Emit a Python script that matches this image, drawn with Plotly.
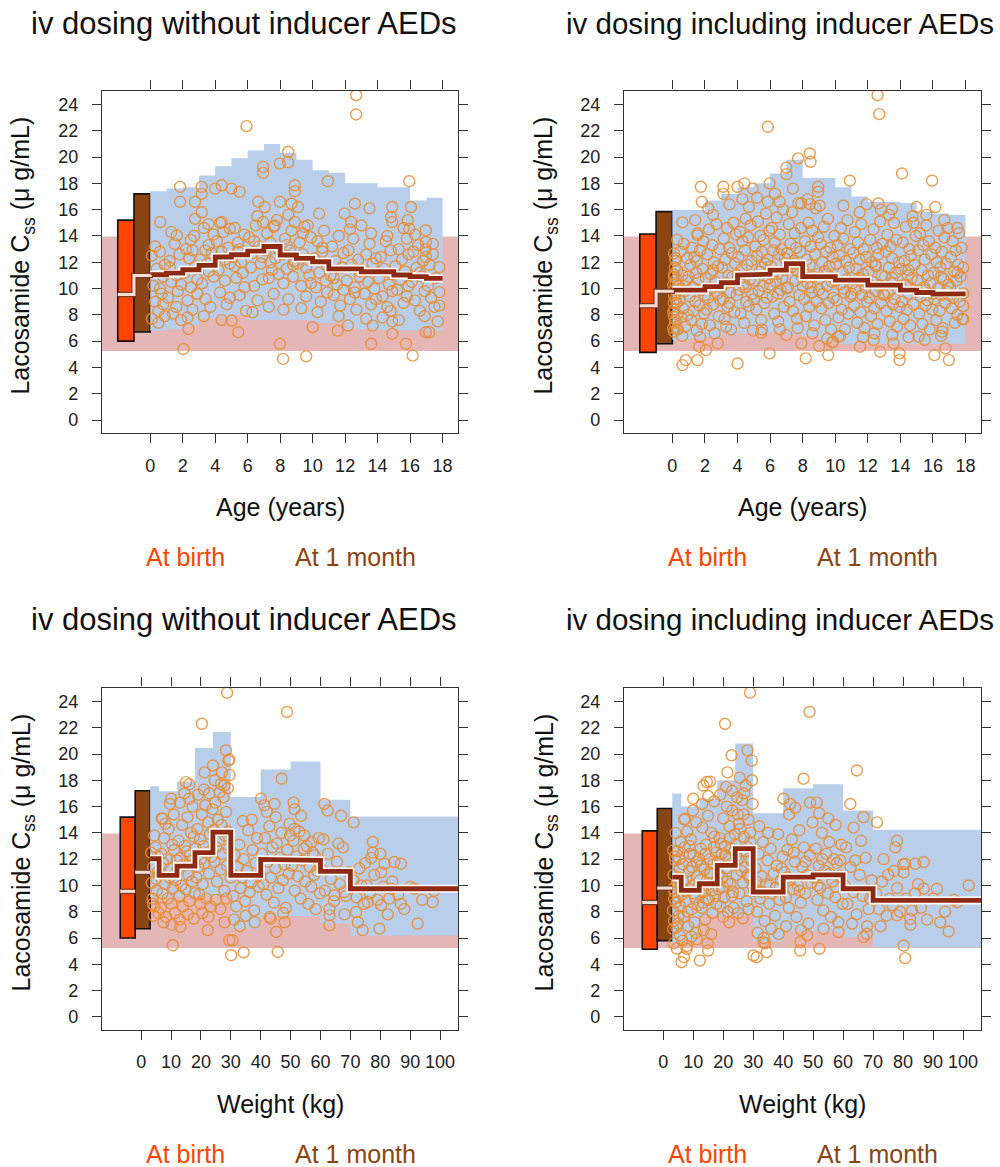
import plotly.graph_objects as go

# ---------------- data ----------------
AGE_EDGES = list(range(0, 19))
WT_EDGES = [3, 6, 12, 18, 24, 30, 40, 50, 60, 70, 106]
AGE_TICKS = list(range(0, 19, 2))
WT_TICKS = list(range(0, 101, 10))
Y_TICKS = list(range(0, 25, 2))
AGE_RANGE = [-2.97, 18.95]
WT_RANGE = [-13.1, 106.0]
Y_RANGE = [-0.96, 25.06]

REF_LOW, REF_HIGH = 5.25, 13.95   # adult reference range (pink)

AGE_BIRTH_X = [-2, -1]
AGE_MONTH_X = [-1, 0]
WT_BIRTH_X = [-7, -2]
WT_MONTH_X = [-2, 3]
NOIND_BIRTH = [6.0, 9.55, 15.2]     # low, median, high
NOIND_MONTH = [6.7, 11.0, 17.2]
IND_BIRTH = [5.15, 8.7, 14.15]
IND_MONTH = [5.8, 9.8, 15.85]

TL_MED = [11.05, 11.17, 11.43, 11.76, 12.4, 12.57, 12.85, 13.2, 12.55, 12.3, 12.04, 11.5, 11.5, 11.28, 11.28, 11.03, 10.9, 10.77]
TL_P95 = [17.4, 17.6, 17.7, 18.6, 19.3, 19.9, 20.5, 21.0, 20.3, 19.8, 19.0, 18.8, 18.0, 18.0, 17.7, 17.7, 16.7, 16.9]
TL_P5 = [6.8, 6.9, 7.2, 7.7, 7.8, 8.0, 7.6, 7.6, 7.6, 7.6, 7.4, 7.4, 6.9, 6.9, 6.85, 6.85, 6.8, 6.8]

TR_MED = [9.88, 9.88, 10.14, 10.44, 11.02, 11.1, 11.4, 11.9, 10.9, 10.9, 10.64, 10.64, 10.26, 10.26, 9.88, 9.7, 9.58, 9.6]
TR_P95 = [16.0, 15.97, 16.7, 17.2, 17.7, 18.0, 18.75, 19.8, 18.4, 18.4, 17.7, 17.0, 16.6, 16.6, 16.5, 15.85, 15.7, 15.6]
TR_P5 = [6.1, 6.2, 6.3, 6.5, 6.6, 6.6, 6.7, 6.5, 6.4, 6.0, 5.8, 5.8, 5.8, 5.8, 5.8, 5.8, 5.8, 5.8]

BL_MED = [12.03, 10.76, 11.47, 12.5, 14.06, 10.76, 11.98, 11.9, 11.07, 9.75]
BL_P95 = [17.54, 17.16, 17.9, 20.45, 21.67, 16.72, 18.83, 19.43, 16.52, 15.25]
BL_P5 = [9.1, 9.1, 9.1, 9.2, 9.2, 6.7, 7.7, 7.65, 7.1, 6.2]

BR_MED = [10.63, 9.62, 10.13, 11.52, 12.8, 9.5, 10.63, 10.8, 9.75, 8.86]
BR_P95 = [17.0, 16.0, 16.6, 18.0, 20.8, 15.5, 17.4, 17.7, 15.7, 14.24]
BR_P5 = [5.7, 5.7, 7.7, 7.7, 7.7, 5.74, 6.5, 6.45, 6.07, 5.3]

# observed concentrations: (age in years, Css) without inducers
TL_POINTS = [
    (12.68, 24.7), (12.68, 23.24), (5.93, 22.35), (8.49, 20.4), (8.49, 19.6), (7.98, 19.5), (6.95, 19.25), (6.95, 18.8),
    (8.9, 17.85), (8.9, 17.4), (10.94, 18.16), (15.95, 18.16), (1.84, 17.73), (1.84, 16.6), (3.17, 17.73), (3.17, 17.2),
    (3.99, 17.6), (4.4, 17.85), (5.0, 17.6), (5.5, 17.35), (2.76, 16.6), (3.17, 15.8), (6.65, 16.6), (7.05, 16.2),
    (7.98, 16.6), (8.7, 16.45), (9.1, 16.2), (12.6, 16.45), (13.5, 16.1), (14.9, 16.2), (16.05, 16.2), (0.61, 15.06),
    (1.64, 14.04), (2.76, 15.3), (3.58, 14.9), (4.4, 15.06), (4.9, 14.55), (6.95, 15.06), (7.67, 14.8), (8.9, 15.06),
    (9.7, 14.8), (10.4, 15.7), (11.96, 15.7), (12.37, 15.06), (13.0, 14.8), (14.83, 15.44), (14.9, 15.06), (15.85, 15.2),
    (15.95, 14.55), (16.97, 14.43), (16.97, 13.54), (2.04, 5.4), (2.35, 6.93), (5.42, 6.68), (5.0, 7.57), (7.98, 5.8),
    (8.18, 4.65), (9.6, 4.85), (10.0, 7.06), (11.55, 6.8), (12.17, 7.19), (13.6, 5.8), (13.7, 7.19), (14.9, 6.55),
    (15.75, 5.8), (16.16, 4.9), (16.97, 6.68), (17.18, 6.68),
    (0.1, 12.5), (0.1, 7.7), (0.2, 10.2), (0.3, 9.0), (0.4, 11.5), (0.5, 8.3), (0.6, 12.8), (0.7, 9.6), (0.8, 10.9),
    (0.9, 7.9), (0.3, 13.2), (0.6, 10.0), (0.9, 11.8), (0.5, 7.4), (0.8, 8.8),
    (1.1, 9.3), (1.2, 12.1), (1.3, 10.5), (1.4, 8.1), (1.5, 13.4), (1.6, 11.0), (1.7, 9.8), (1.8, 12.6), (1.9, 7.6),
    (1.3, 14.3), (1.6, 8.6), (1.9, 10.3), (1.2, 11.6),
    (2.1, 11.2), (2.2, 13.0), (2.3, 9.1), (2.4, 12.3), (2.5, 10.1), (2.6, 8.4), (2.7, 14.0), (2.8, 11.7), (2.9, 9.6),
    (2.3, 7.8), (2.6, 12.9), (2.9, 10.7), (2.5, 13.7),
    (3.1, 12.2), (3.2, 10.4), (3.3, 14.6), (3.4, 9.2), (3.5, 11.9), (3.6, 13.3), (3.7, 8.6), (3.8, 12.7), (3.9, 10.9),
    (3.3, 7.9), (3.6, 11.3), (3.9, 14.1), (3.4, 12.9),
    (4.1, 13.6), (4.2, 11.4), (4.3, 9.7), (4.4, 12.8), (4.5, 14.3), (4.6, 10.6), (4.7, 8.8), (4.8, 13.1), (4.9, 11.9),
    (4.3, 15.0), (4.6, 12.2), (4.9, 9.3), (4.4, 7.6),
    (5.1, 12.4), (5.2, 14.6), (5.3, 10.8), (5.4, 13.5), (5.5, 9.5), (5.6, 12.0), (5.7, 11.2), (5.8, 14.1), (5.9, 8.3),
    (5.2, 11.7), (5.5, 13.0), (5.8, 10.1), (5.4, 12.8),
    (6.1, 13.9), (6.2, 11.6), (6.3, 12.7), (6.4, 10.2), (6.5, 14.8), (6.6, 9.1), (6.7, 13.2), (6.8, 11.9), (6.9, 12.4),
    (6.3, 8.2), (6.6, 15.5), (6.9, 10.7), (6.4, 13.6),
    (7.1, 12.9), (7.2, 14.2), (7.3, 10.8), (7.4, 13.5), (7.5, 11.4), (7.6, 9.6), (7.7, 12.3), (7.8, 15.2), (7.9, 13.0),
    (7.3, 8.6), (7.6, 14.7), (7.9, 11.1), (7.4, 12.0),
    (8.1, 12.6), (8.2, 10.4), (8.3, 13.8), (8.4, 11.5), (8.5, 9.2), (8.6, 12.9), (8.7, 14.4), (8.8, 10.9), (8.9, 12.1),
    (8.2, 8.4), (8.5, 15.6), (8.8, 11.8), (8.4, 13.3),
    (9.1, 11.9), (9.2, 13.5), (9.3, 10.2), (9.4, 12.6), (9.5, 14.7), (9.6, 9.4), (9.7, 12.2), (9.8, 11.0), (9.9, 13.9),
    (9.3, 8.5), (9.6, 11.6), (9.9, 10.4), (9.4, 14.2),
    (10.1, 12.3), (10.2, 10.1), (10.3, 13.6), (10.4, 11.2), (10.5, 9.0), (10.6, 12.8), (10.7, 14.4), (10.8, 10.6),
    (10.9, 11.7), (10.3, 8.2), (10.6, 13.1), (10.9, 9.7),
    (11.1, 11.0), (11.2, 13.2), (11.3, 9.5), (11.4, 12.1), (11.5, 10.3), (11.6, 14.0), (11.7, 8.7), (11.8, 11.6),
    (11.9, 12.7), (11.3, 10.8), (11.6, 7.9), (11.9, 9.9),
    (12.1, 10.6), (12.2, 12.9), (12.3, 9.2), (12.4, 11.8), (12.5, 13.8), (12.6, 10.1), (12.7, 8.4), (12.8, 12.2),
    (12.9, 11.3), (12.3, 14.5), (12.6, 9.7), (12.9, 10.9),
    (13.1, 11.4), (13.2, 9.6), (13.3, 12.6), (13.4, 10.5), (13.5, 13.4), (13.6, 8.8), (13.7, 11.9), (13.8, 10.0),
    (13.9, 12.3), (13.3, 7.7), (13.6, 14.2), (13.9, 9.2),
    (14.1, 10.8), (14.2, 12.4), (14.3, 9.4), (14.4, 11.5), (14.5, 13.6), (14.6, 8.6), (14.7, 10.3), (14.8, 12.9),
    (14.9, 11.1), (14.3, 7.8), (14.6, 14.0), (14.9, 9.8), (14.8, 8.3), (14.9, 7.5),
    (15.1, 11.7), (15.2, 9.9), (15.3, 13.0), (15.4, 10.7), (15.5, 12.2), (15.6, 8.9), (15.7, 11.3), (15.8, 13.8),
    (15.9, 10.2), (15.3, 7.6), (15.6, 14.6), (15.9, 12.6), (15.8, 9.4),
    (16.1, 10.5), (16.2, 12.8), (16.3, 9.1), (16.4, 11.6), (16.5, 13.3), (16.6, 8.3), (16.7, 10.9), (16.8, 12.1),
    (16.9, 9.8), (16.3, 14.1), (16.6, 11.2), (16.9, 7.9), (16.97, 13.0), (16.97, 12.4),
    (17.1, 10.2), (17.2, 11.8), (17.3, 9.3), (17.4, 12.6), (17.5, 8.6), (17.6, 10.8), (17.8, 11.63), (17.8, 9.73),
    (17.8, 8.7), (17.4, 13.4), (17.7, 7.5),
]

# (age in years, Css) including inducers
TR_POINTS = [
    (12.6, 24.7), (12.7, 23.26), (5.86, 22.3), (7.72, 19.9), (8.44, 20.27), (8.48, 19.64), (7.0, 19.2), (7.0, 18.7),
    (14.1, 18.75), (15.95, 18.2), (10.9, 18.2), (1.75, 17.74), (1.81, 16.6), (3.13, 17.74), (3.13, 17.2), (4.0, 17.74),
    (4.42, 18.0), (4.94, 17.6), (5.97, 18.0), (8.95, 17.74), (8.95, 17.36), (0.62, 15.03), (1.54, 14.06), (12.65, 16.47),
    (11.93, 16.42), (13.48, 16.04), (16.15, 16.2), (15.0, 16.2), (8.44, 16.42), (9.05, 16.3), (7.92, 16.47), (5.86, 16.6),
    (6.58, 16.6), (0.62, 4.18), (0.82, 4.56), (1.54, 4.56), (1.65, 5.58), (2.06, 5.32), (2.78, 5.83), (4.0, 4.3),
    (5.97, 5.07), (5.45, 6.64), (7.0, 6.46), (7.92, 5.83), (8.19, 4.69), (9.01, 5.63), (9.57, 4.94), (9.88, 5.96),
    (10.19, 6.34), (11.52, 5.58), (12.35, 6.08), (12.76, 5.2), (13.58, 5.83), (13.95, 5.07), (13.95, 4.56), (15.12, 6.34),
    (16.09, 4.94), (16.77, 5.45), (16.98, 4.56), (16.56, 6.72), (0.1, 12.67), (0.1, 11.07), (0.1, 7.86), (0.1, 6.72),
    (0.05, 7.0), (0.08, 8.9), (0.12, 9.9), (0.15, 11.6), (0.18, 12.3), (0.22, 7.6), (0.25, 10.7), (0.28, 6.9),
    (0.12, 8.4), (0.05, 10.3), (0.2, 9.2), (0.3, 8.0),
    (1.0, 10.9), (2.0, 9.5), (3.0, 10.1), (4.0, 11.0), (5.0, 9.2), (6.0, 10.3), (7.0, 10.0), (8.0, 10.2), (9.0, 9.9),
    (10.0, 10.6), (11.0, 9.6), (12.0, 10.4), (13.0, 9.5), (14.0, 10.2), (15.0, 9.8), (16.0, 9.6), (17.0, 9.5),
    (1.5, 12.1), (2.5, 11.4), (3.5, 8.9), (4.5, 10.1), (5.5, 11.6), (6.5, 9.6), (7.5, 11.9), (8.5, 10.1), (9.5, 11.1),
    (10.5, 10.0), (11.5, 10.6), (12.5, 11.7), (13.5, 10.8), (14.5, 11.4), (15.5, 9.9), (16.5, 10.9), (17.5, 11.2),
    (0.05, 8.2), (0.1, 9.5), (0.1, 10.9), (0.15, 7.4), (0.2, 12.1), (0.25, 8.9), (0.3, 11.4), (0.35, 6.9), (0.4, 10.2),
    (0.45, 9.1), (0.5, 12.8), (0.55, 7.8), (0.6, 11.0), (0.65, 8.5), (0.7, 13.4), (0.75, 9.8), (0.8, 7.1), (0.85, 10.6),
    (0.9, 12.3), (0.95, 8.0), (0.3, 13.7), (0.6, 6.4), (0.2, 10.4),
    (1.05, 9.4), (1.1, 11.8), (1.15, 7.6), (1.2, 13.1), (1.25, 10.1), (1.3, 8.3), (1.35, 12.4), (1.4, 9.0), (1.45, 11.2),
    (1.5, 6.8), (1.55, 14.2), (1.6, 10.7), (1.65, 8.7), (1.7, 12.9), (1.75, 9.9), (1.8, 7.3), (1.85, 11.5), (1.9, 13.6),
    (1.95, 8.1), (1.4, 15.2), (1.7, 6.3),
    (2.05, 10.8), (2.1, 8.4), (2.15, 12.6), (2.2, 9.3), (2.25, 14.5), (2.3, 7.2), (2.35, 11.1), (2.4, 10.0), (2.45, 13.3),
    (2.5, 8.8), (2.55, 12.0), (2.6, 6.6), (2.65, 10.5), (2.7, 14.9), (2.75, 9.6), (2.8, 11.7), (2.85, 7.9), (2.9, 13.0),
    (2.95, 9.1), (2.5, 15.6), (2.2, 16.1),
    (3.05, 11.6), (3.1, 9.2), (3.15, 13.8), (3.2, 7.7), (3.25, 12.2), (3.3, 10.4), (3.35, 14.6), (3.4, 8.6), (3.45, 11.0),
    (3.5, 13.1), (3.55, 9.7), (3.6, 6.9), (3.65, 12.7), (3.7, 10.9), (3.75, 15.0), (3.8, 8.2), (3.85, 11.9), (3.9, 14.1),
    (3.95, 9.5), (3.5, 16.4), (3.3, 7.1),
    (4.05, 12.4), (4.1, 9.9), (4.15, 14.3), (4.2, 8.1), (4.25, 11.5), (4.3, 13.6), (4.35, 10.3), (4.4, 7.4), (4.45, 12.9),
    (4.5, 15.3), (4.55, 9.0), (4.6, 11.8), (4.65, 13.9), (4.7, 8.7), (4.75, 10.7), (4.8, 14.8), (4.85, 12.1), (4.9, 9.6),
    (4.95, 6.8), (4.3, 16.8), (4.7, 16.2),
    (5.05, 10.6), (5.1, 13.2), (5.15, 8.4), (5.2, 12.5), (5.25, 15.1), (5.3, 9.8), (5.35, 11.3), (5.4, 14.0), (5.45, 7.6),
    (5.5, 12.8), (5.55, 10.2), (5.6, 13.7), (5.65, 8.9), (5.7, 11.9), (5.75, 15.7), (5.8, 9.3), (5.85, 12.2), (5.9, 10.8),
    (5.95, 14.4), (5.5, 6.9), (5.2, 16.9),
    (6.05, 11.7), (6.1, 14.6), (6.15, 9.4), (6.2, 12.9), (6.25, 8.1), (6.3, 13.5), (6.35, 10.5), (6.4, 15.4), (6.45, 11.1),
    (6.5, 7.5), (6.55, 12.6), (6.6, 14.1), (6.65, 9.9), (6.7, 13.0), (6.75, 10.8), (6.8, 16.0), (6.85, 8.6), (6.9, 12.3),
    (6.95, 11.4), (6.3, 17.2), (6.6, 6.9),
    (7.05, 12.7), (7.1, 10.1), (7.15, 14.9), (7.2, 9.0), (7.25, 13.4), (7.3, 11.6), (7.35, 15.8), (7.4, 8.3), (7.45, 12.1),
    (7.5, 14.2), (7.55, 10.6), (7.6, 13.1), (7.65, 7.7), (7.7, 11.3), (7.75, 16.5), (7.8, 9.5), (7.85, 12.8), (7.9, 14.6),
    (7.95, 10.9), (7.4, 17.6), (7.7, 7.0),
    (8.05, 11.4), (8.1, 9.2), (8.15, 13.6), (8.2, 7.9), (8.25, 12.2), (8.3, 10.4), (8.35, 15.0), (8.4, 8.6), (8.45, 11.8),
    (8.5, 13.2), (8.55, 9.7), (8.6, 14.4), (8.65, 10.9), (8.7, 7.2), (8.75, 12.6), (8.8, 16.1), (8.85, 9.0), (8.9, 11.1),
    (8.95, 13.9), (8.6, 6.6), (8.3, 16.8),
    (9.05, 10.8), (9.1, 13.4), (9.15, 8.5), (9.2, 12.0), (9.25, 9.6), (9.3, 14.7), (9.35, 11.3), (9.4, 7.6), (9.45, 12.8),
    (9.5, 10.2), (9.55, 15.3), (9.6, 8.9), (9.65, 11.7), (9.7, 13.1), (9.75, 6.9), (9.8, 10.5), (9.85, 12.4), (9.9, 9.3),
    (9.95, 14.0), (9.5, 6.2), (9.8, 5.9),
    (10.05, 11.9), (10.1, 9.1), (10.15, 13.3), (10.2, 7.8), (10.25, 12.5), (10.3, 10.3), (10.35, 14.6), (10.4, 8.4),
    (10.45, 11.2), (10.5, 13.8), (10.55, 9.7), (10.6, 6.9), (10.65, 12.1), (10.7, 10.7), (10.75, 15.2), (10.8, 8.1),
    (10.85, 11.6), (10.9, 13.0), (10.95, 9.4), (10.5, 16.3), (10.3, 6.4),
    (11.05, 10.4), (11.1, 12.7), (11.15, 8.7), (11.2, 14.3), (11.25, 9.9), (11.3, 11.5), (11.35, 7.4), (11.4, 13.5),
    (11.45, 10.8), (11.5, 12.2), (11.55, 8.2), (11.6, 14.9), (11.65, 9.5), (11.7, 11.1), (11.75, 13.0), (11.8, 7.0),
    (11.85, 10.1), (11.9, 12.4), (11.95, 9.0), (11.5, 15.8), (11.7, 6.3),
    (12.05, 11.3), (12.1, 9.3), (12.15, 13.7), (12.2, 7.9), (12.25, 12.0), (12.3, 10.5), (12.35, 14.5), (12.4, 8.5),
    (12.45, 11.8), (12.5, 9.8), (12.55, 13.1), (12.6, 7.3), (12.65, 12.6), (12.7, 10.2), (12.75, 15.1), (12.8, 8.9),
    (12.85, 11.0), (12.9, 13.4), (12.95, 9.6), (12.4, 6.6), (12.8, 16.0),
    (13.05, 10.9), (13.1, 12.8), (13.15, 8.3), (13.2, 14.1), (13.25, 9.7), (13.3, 11.6), (13.35, 7.5), (13.4, 13.2),
    (13.45, 10.4), (13.5, 12.3), (13.55, 8.8), (13.6, 15.0), (13.65, 9.2), (13.7, 11.2), (13.75, 13.7), (13.8, 7.1),
    (13.85, 10.0), (13.9, 12.0), (13.95, 8.6), (13.5, 6.5), (13.3, 15.6),
    (14.05, 11.5), (14.1, 9.0), (14.15, 13.5), (14.2, 7.7), (14.25, 12.1), (14.3, 10.3), (14.35, 14.7), (14.4, 8.4),
    (14.45, 11.0), (14.5, 9.6), (14.55, 13.0), (14.6, 7.2), (14.65, 12.5), (14.7, 10.8), (14.75, 15.5), (14.8, 8.8),
    (14.85, 11.8), (14.9, 9.9), (14.95, 14.0), (14.5, 6.3), (14.8, 15.0),
    (15.05, 10.6), (15.1, 12.9), (15.15, 8.1), (15.2, 14.2), (15.25, 9.4), (15.3, 11.4), (15.35, 7.3), (15.4, 13.3),
    (15.45, 10.1), (15.5, 12.2), (15.55, 8.7), (15.6, 14.8), (15.65, 9.1), (15.7, 11.0), (15.75, 13.6), (15.8, 6.9),
    (15.85, 10.4), (15.9, 12.6), (15.95, 8.4), (15.5, 6.1), (15.6, 15.6),
    (16.05, 11.2), (16.1, 9.2), (16.15, 13.1), (16.2, 7.6), (16.25, 12.0), (16.3, 10.0), (16.35, 14.4), (16.4, 8.3),
    (16.45, 11.6), (16.5, 9.5), (16.55, 12.8), (16.6, 7.0), (16.65, 10.7), (16.7, 13.9), (16.75, 8.9), (16.8, 11.9),
    (16.85, 9.8), (16.9, 14.6), (16.95, 10.3), (16.5, 6.4), (16.7, 15.2),
    (17.05, 10.1), (17.1, 12.4), (17.15, 8.5), (17.2, 13.6), (17.25, 9.3), (17.3, 11.3), (17.35, 7.4), (17.4, 12.9),
    (17.45, 10.6), (17.5, 8.0), (17.55, 11.8), (17.6, 14.2), (17.65, 9.0), (17.7, 10.9), (17.75, 13.1), (17.8, 7.7),
    (17.86, 11.6), (17.86, 9.63), (17.86, 8.67), (17.86, 7.65), (17.5, 14.6),
]

# (weight in kg, Css) without inducers
BL_POINTS = [
    (28.75, 24.66), (48.8, 23.2), (20.3, 22.3), (28.4, 20.27), (29.2, 19.5), (29.5, 19.6), (24.0, 19.13), (21.2, 18.6),
    (15.0, 17.86), (16.1, 17.7), (27.8, 17.6), (26.7, 17.7), (29.0, 17.4), (47.0, 18.12), (40.1, 16.6), (41.2, 16.09),
    (44.6, 16.2), (51.0, 16.3), (51.3, 15.8), (61.3, 16.2), (62.4, 15.7), (66.9, 15.3), (71.1, 14.8), (10.0, 16.6),
    (7.2, 15.07), (77.5, 13.3), (77.5, 12.5), (81.4, 11.65), (84.7, 11.78), (86.9, 11.65), (80.3, 11.0), (83.6, 9.75),
    (91.4, 9.75), (97.5, 8.74), (86.9, 8.6), (80.3, 8.5), (92.5, 7.1), (79.7, 6.71), (74.1, 6.6), (72.5, 7.2),
    (71.9, 7.98), (75.8, 8.74), (73.6, 10.0), (68.0, 9.5), (64.7, 9.25), (63.0, 7.72), (63.0, 6.96), (10.6, 5.45),
    (22.3, 6.6), (27.9, 7.2), (29.5, 5.83), (30.6, 5.83), (30.1, 4.69), (34.3, 4.9), (45.7, 4.94), (45.2, 6.46),
    (43.3, 7.47), (48.0, 7.2), (13.1, 6.84), (17.6, 7.47), (49.6, 14.7), (51.3, 14.3), (53.5, 15.3), (54.6, 13.8),
    (56.9, 13.3), (58.0, 12.3),
    (3.3, 12.5), (4.2, 7.7), (3.5, 10.2), (3.8, 9.0), (4.0, 11.4), (4.5, 8.4), (4.8, 12.9), (5.2, 9.6), (5.5, 11.0),
    (5.8, 7.9), (4.4, 13.8), (5.0, 10.5), (3.9, 8.6), (5.6, 12.2),
    (6.2, 10.9), (6.5, 8.3), (6.8, 12.4), (7.1, 9.4), (7.4, 11.7), (7.7, 13.6), (8.0, 10.1), (8.3, 7.6), (8.6, 12.0),
    (8.9, 9.0), (9.2, 14.3), (9.5, 10.6), (9.8, 11.3), (10.1, 8.6), (10.4, 13.1), (10.7, 9.8), (11.0, 12.7), (11.3, 7.9),
    (11.6, 10.4), (11.9, 11.9), (6.9, 15.1), (8.1, 14.7), (9.6, 16.2), (10.9, 15.4), (7.5, 7.2), (10.3, 7.0),
    (12.2, 11.2), (12.5, 13.4), (12.8, 9.2), (13.1, 12.1), (13.4, 10.0), (13.7, 14.6), (14.0, 8.4), (14.3, 11.6),
    (14.6, 13.0), (14.9, 9.7), (15.2, 12.6), (15.5, 15.2), (15.8, 10.8), (16.1, 8.8), (16.4, 12.3), (16.7, 14.0),
    (17.0, 10.3), (17.3, 11.9), (17.6, 13.7), (17.9, 9.4), (13.0, 16.3), (14.5, 17.0), (16.0, 16.6), (12.9, 7.4),
    (15.6, 7.8), (17.2, 16.0),
    (18.2, 12.8), (18.5, 10.6), (18.8, 14.3), (19.1, 11.4), (19.4, 9.3), (19.7, 13.5), (20.0, 12.0), (20.3, 15.4),
    (20.6, 10.1), (20.9, 13.0), (21.2, 11.7), (21.5, 16.1), (21.8, 9.0), (22.1, 12.5), (22.4, 14.8), (22.7, 10.9),
    (23.0, 13.9), (23.3, 8.4), (23.6, 12.2), (23.9, 15.8), (19.0, 16.9), (21.0, 17.3), (22.8, 17.0), (20.5, 7.9),
    (22.5, 7.6), (19.8, 8.6),
    (24.2, 14.2), (24.5, 11.8), (24.8, 16.3), (25.1, 12.9), (25.4, 10.3), (25.7, 15.0), (26.0, 13.4), (26.3, 17.1),
    (26.6, 11.2), (26.9, 14.6), (27.2, 12.4), (27.5, 16.7), (27.8, 9.6), (28.1, 13.8), (28.4, 15.6), (28.7, 11.5),
    (29.0, 14.1), (29.3, 12.8), (29.6, 18.4), (29.9, 10.6), (25.0, 8.9), (26.5, 8.2), (28.5, 9.0), (24.6, 18.0),
    (27.0, 18.6),
    (30.3, 10.9), (30.8, 9.2), (31.3, 12.3), (31.8, 8.4), (32.3, 11.4), (32.8, 13.1), (33.3, 9.8), (33.8, 10.6),
    (34.3, 12.0), (34.8, 8.8), (35.3, 11.1), (35.8, 14.2), (36.3, 9.5), (36.8, 10.2), (37.3, 12.7), (37.8, 8.1),
    (38.3, 11.7), (38.8, 13.6), (39.3, 9.9), (39.8, 10.8), (31.0, 7.4), (33.0, 6.9), (35.0, 7.7), (37.0, 15.0),
    (34.0, 14.9), (38.0, 7.2),
    (40.4, 12.4), (40.9, 10.1), (41.4, 13.6), (41.9, 9.3), (42.4, 11.8), (42.9, 14.5), (43.4, 10.6), (43.9, 12.9),
    (44.4, 8.7), (44.9, 11.3), (45.4, 13.2), (45.9, 9.8), (46.4, 12.1), (46.9, 14.0), (47.4, 10.4), (47.9, 11.6),
    (48.4, 8.3), (48.9, 12.7), (49.4, 10.9), (49.8, 13.8), (42.0, 15.6), (45.0, 15.2), (47.5, 7.9), (43.0, 7.6),
    (50.4, 11.5), (50.9, 13.4), (51.4, 9.6), (51.9, 12.2), (52.4, 10.7), (52.9, 14.1), (53.4, 9.0), (53.9, 11.9),
    (54.4, 12.8), (54.9, 10.3), (55.4, 13.0), (55.9, 8.6), (56.4, 11.4), (56.9, 9.9), (57.4, 12.5), (57.9, 10.8),
    (58.4, 8.2), (58.9, 11.1), (59.4, 13.6), (59.8, 9.4),
    (60.5, 11.2), (61.5, 9.6), (62.5, 12.4), (63.5, 10.5), (64.5, 8.8), (65.5, 11.8), (66.5, 10.1), (67.5, 12.9),
    (68.5, 9.2), (69.5, 11.0), (61.0, 13.5), (63.0, 8.2), (66.0, 13.2), (68.0, 7.8),
    (71.0, 10.4), (72.0, 9.1), (73.0, 11.3), (74.5, 8.6), (75.5, 10.0), (76.5, 9.4), (78.0, 10.8), (79.0, 8.9),
    (81.0, 9.9), (82.5, 7.8), (84.0, 10.3), (86.0, 9.3), (88.0, 8.2), (90.0, 9.9), (94.0, 8.9), (98.0, 9.6),
    (77.0, 12.1), (80.0, 12.4), (83.0, 9.0), (75.0, 11.7),
]

# (weight in kg, Css) including inducers
BR_POINTS = [
    (28.95, 24.67), (48.8, 23.2), (20.6, 22.3), (28.1, 20.28), (29.5, 19.5), (22.8, 19.9), (21.4, 18.6), (46.8, 18.12),
    (64.6, 18.75), (10.0, 16.6), (13.4, 17.6), (14.5, 17.87), (15.6, 17.9), (7.2, 15.07), (40.1, 16.6), (42.3, 16.2),
    (49.0, 16.3), (51.2, 16.3), (62.4, 16.2), (66.8, 15.2), (71.3, 14.8), (63.5, 14.4), (78.0, 13.4), (77.4, 12.9),
    (80.7, 11.65), (84.1, 11.65), (86.9, 11.78), (80.2, 11.0), (86.9, 9.75), (91.3, 9.75), (101.9, 10.0), (98.0, 8.73),
    (92.4, 7.2), (95.2, 6.5), (80.2, 5.43), (80.7, 4.47), (82.4, 7.46), (78.0, 7.72), (6.1, 4.16), (6.9, 4.54),
    (7.8, 5.18), (12.2, 4.29), (15.0, 5.05), (30.1, 4.67), (31.2, 4.54), (34.5, 4.92), (33.4, 5.69), (45.7, 5.05),
    (45.7, 5.69), (52.1, 5.18), (58.5, 6.45), (66.8, 6.07), (67.9, 6.32), (3.3, 6.7), (3.3, 12.67), (3.3, 9.75),
    (3.6, 9.0), (4.3, 10.0), (4.9, 7.1), (5.3, 12.0), (5.7, 9.9), (6.6, 10.3), (7.3, 9.6), (8.1, 8.0), (8.8, 12.4),
    (9.6, 11.4), (10.2, 9.4), (11.1, 11.8), (11.8, 9.9), (12.6, 11.5), (13.3, 8.7), (14.1, 12.4), (14.7, 9.0),
    (15.4, 11.0), (16.2, 9.6), (16.9, 12.9), (17.7, 8.6), (18.4, 10.9), (19.2, 13.2), (19.9, 9.9), (20.7, 12.3),
    (21.4, 10.3), (22.2, 13.6), (22.9, 9.2), (23.7, 12.6), (24.4, 12.2), (25.2, 14.7), (26.1, 11.1), (26.8, 15.4),
    (27.6, 12.6), (28.3, 10.8), (29.1, 13.3), (29.8, 16.2), (31.0, 10.3), (33.0, 9.5), (35.5, 10.0), (37.5, 9.8),
    (39.5, 11.3), (41.5, 10.6), (43.5, 12.5), (45.5, 9.6), (47.5, 11.8), (51.5, 10.0), (53.0, 12.0), (55.5, 10.9),
    (57.5, 9.9), (59.0, 11.9),
    (3.2, 8.1), (3.4, 10.8), (3.6, 7.3), (3.8, 9.5), (4.0, 11.9), (4.2, 8.7), (4.4, 6.8), (4.6, 10.2), (4.8, 12.6),
    (5.0, 9.1), (5.2, 7.7), (5.4, 11.3), (5.6, 8.4), (5.8, 13.3), (3.5, 5.6), (4.5, 5.2), (5.5, 6.2), (4.1, 14.0),
    (5.1, 10.6), (3.9, 12.2),
    (6.2, 9.3), (6.5, 11.6), (6.8, 7.6), (7.1, 12.9), (7.4, 8.8), (7.7, 10.5), (8.0, 14.1), (8.3, 6.9), (8.6, 11.1),
    (8.9, 9.7), (9.2, 13.5), (9.5, 8.2), (9.8, 10.0), (10.1, 12.3), (10.4, 7.2), (10.7, 9.1), (11.0, 14.8), (11.3, 10.7),
    (11.6, 8.5), (11.9, 12.0), (6.4, 5.8), (7.9, 5.4), (9.4, 6.1), (10.8, 6.4), (7.0, 15.0), (9.9, 15.7), (8.7, 13.0),
    (11.2, 5.9),
    (12.2, 10.4), (12.5, 12.8), (12.8, 8.3), (13.1, 14.4), (13.4, 9.5), (13.7, 11.2), (14.0, 7.4), (14.3, 13.1),
    (14.6, 10.0), (14.9, 15.3), (15.2, 8.9), (15.5, 12.0), (15.8, 10.9), (16.1, 14.0), (16.4, 7.9), (16.7, 11.6),
    (17.0, 13.7), (17.3, 9.2), (17.6, 12.5), (17.9, 10.3), (13.0, 16.2), (15.0, 16.8), (17.0, 16.4), (13.5, 6.6),
    (16.0, 6.3), (14.8, 5.6),
    (18.2, 11.8), (18.5, 9.7), (18.8, 13.6), (19.1, 8.4), (19.4, 12.4), (19.7, 10.6), (20.0, 15.1), (20.3, 9.1),
    (20.6, 13.0), (20.9, 11.3), (21.2, 16.0), (21.5, 8.0), (21.8, 12.1), (22.1, 14.5), (22.4, 10.1), (22.7, 12.8),
    (23.0, 15.7), (23.3, 9.5), (23.6, 11.6), (23.9, 13.9), (19.0, 16.9), (21.0, 17.5), (23.0, 17.2), (20.0, 7.6),
    (22.0, 7.2), (23.5, 8.3),
    (24.2, 13.1), (24.5, 10.8), (24.8, 15.4), (25.1, 12.0), (25.4, 9.4), (25.7, 14.3), (26.0, 12.6), (26.3, 16.5),
    (26.6, 10.2), (26.9, 13.7), (27.2, 11.4), (27.5, 17.6), (27.8, 8.8), (28.1, 12.9), (28.4, 15.0), (28.7, 10.6),
    (29.0, 14.0), (29.3, 11.9), (29.6, 18.0), (29.9, 9.9), (25.0, 7.9), (26.5, 7.5), (28.5, 8.2), (25.5, 18.2),
    (27.0, 17.0), (24.7, 16.7),
    (30.3, 9.6), (30.8, 11.3), (31.3, 8.0), (31.8, 12.4), (32.3, 9.0), (32.8, 10.7), (33.3, 13.3), (33.8, 7.3),
    (34.3, 10.1), (34.8, 11.9), (35.3, 8.6), (35.8, 12.8), (36.3, 9.4), (36.8, 10.9), (37.3, 7.7), (37.8, 11.5),
    (38.3, 13.9), (38.8, 8.9), (39.3, 10.4), (39.8, 12.2), (31.5, 6.4), (33.5, 6.0), (36.0, 6.7), (38.5, 6.3),
    (32.0, 14.5), (35.0, 14.0), (34.0, 5.6),
    (40.4, 11.0), (40.9, 9.1), (41.4, 12.7), (41.9, 8.3), (42.4, 10.4), (42.9, 13.5), (43.4, 9.7), (43.9, 11.8),
    (44.4, 7.6), (44.9, 10.0), (45.4, 14.2), (45.9, 8.7), (46.4, 11.4), (46.9, 12.9), (47.4, 9.4), (47.9, 10.8),
    (48.4, 7.1), (48.9, 12.3), (49.4, 10.2), (49.8, 14.8), (42.0, 15.4), (44.0, 15.9), (46.0, 6.6), (48.0, 6.2),
    (41.0, 6.9),
    (50.4, 10.6), (50.9, 12.8), (51.4, 8.9), (51.9, 11.5), (52.4, 9.8), (52.9, 14.0), (53.4, 8.1), (53.9, 11.1),
    (54.4, 12.4), (54.9, 9.4), (55.4, 13.3), (55.9, 7.6), (56.4, 10.3), (56.9, 12.0), (57.4, 9.1), (57.9, 11.7),
    (58.4, 7.2), (58.9, 10.7), (59.4, 13.1), (59.8, 8.6), (52.0, 15.5), (55.0, 15.1), (57.5, 14.6), (53.5, 6.7),
    (60.5, 10.0), (61.5, 8.6), (62.5, 11.4), (63.5, 9.5), (64.5, 7.8), (65.5, 10.8), (66.5, 9.2), (67.5, 12.1),
    (68.5, 8.2), (69.5, 10.4), (61.0, 12.9), (63.0, 7.1), (66.0, 13.4), (68.0, 6.9), (64.0, 11.9), (69.0, 9.0),
    (71.0, 9.4), (72.0, 8.2), (73.0, 10.3), (74.5, 7.7), (75.5, 9.0), (76.5, 8.5), (78.0, 9.8), (79.0, 8.0),
    (81.0, 9.0), (82.5, 7.0), (84.0, 9.4), (86.0, 8.3), (88.0, 7.4), (90.0, 9.0), (94.0, 8.0), (97.0, 8.9),
    (77.0, 11.1), (80.0, 11.6), (83.0, 8.1), (75.0, 10.8), (73.5, 12.0), (85.0, 10.1), (72.5, 6.9),
]

TITLES = ["iv dosing without inducer AEDs", "iv dosing including inducer AEDs"]
XLABELS = ["Age (years)", "Weight (kg)"]
YLABEL = "Lacosamide C<sub>ss</sub> (\u03bc g/mL)"
BIRTH_LABEL, MONTH_LABEL = "At birth", "At 1 month"

# ---------------- style ----------------
FONT = "Liberation Sans, Arial, sans-serif"
PINK = "rgb(229,182,182)"
BLUE = "rgb(185,206,235)"
PT = "rgba(232,140,50,0.85)"
MEDC = "#8E2A12"
PALE = "#F6DDD4"
BIRTHC = "#FF4500"
MONTHC = "#8B4513"
AX = "#333333"

W, H = 1000, 1167
COLX = [(102, 458), (624, 981)]
ROWY = [(90.5, 432.7), (687.5, 1029.5)]


def px(x):
    return x / W


def py(y):
    return 1 - y / H


def steps(edges, vals):
    xs, ys = [], []
    for i, v in enumerate(vals):
        xs += [edges[i], edges[i + 1]]
        ys += [v, v]
    return xs, ys


panels = [
    dict(ax="", edges=AGE_EDGES, med=TL_MED, p5=TL_P5, p95=TL_P95, pts=TL_POINTS, birth=NOIND_BIRTH,
         month=NOIND_MONTH, bx=AGE_BIRTH_X, mx=AGE_MONTH_X, joined=True, row=0, col=0),
    dict(ax="2", edges=AGE_EDGES, med=TR_MED, p5=TR_P5, p95=TR_P95, pts=TR_POINTS, birth=IND_BIRTH,
         month=IND_MONTH, bx=AGE_BIRTH_X, mx=AGE_MONTH_X, joined=True, row=0, col=1),
    dict(ax="3", edges=WT_EDGES, med=BL_MED, p5=BL_P5, p95=BL_P95, pts=BL_POINTS, birth=NOIND_BIRTH,
         month=NOIND_MONTH, bx=WT_BIRTH_X, mx=WT_MONTH_X, joined=False, row=1, col=0),
    dict(ax="4", edges=WT_EDGES, med=BR_MED, p5=BR_P5, p95=BR_P95, pts=BR_POINTS, birth=IND_BIRTH,
         month=IND_MONTH, bx=WT_BIRTH_X, mx=WT_MONTH_X, joined=False, row=1, col=1),
]

fig = go.Figure()
shapes, annotations = [], []
layout_axes = {}

for p in panels:
    xa, ya = "x" + p["ax"], "y" + p["ax"]
    ux, uy = steps(p["edges"], p["p95"])
    lx, ly = steps(p["edges"], p["p5"])
    fig.add_trace(go.Scatter(x=ux + lx[::-1], y=uy + ly[::-1], fill="toself", fillcolor=BLUE,
                             mode="lines", line=dict(width=0), hoverinfo="skip", showlegend=False,
                             xaxis=xa, yaxis=ya))
    for rng, stats, col in ((p["bx"], p["birth"], BIRTHC), (p["mx"], p["month"], MONTHC)):
        fig.add_trace(go.Bar(x=[(rng[0] + rng[1]) / 2], width=[rng[1] - rng[0]], base=[stats[0]],
                             y=[stats[2] - stats[0]], marker=dict(color=col, line=dict(color="#111111", width=1.6)),
                             showlegend=False, hoverinfo="skip", xaxis=xa, yaxis=ya))
    fig.add_trace(go.Scatter(x=[a for a, _ in p["pts"]], y=[c for _, c in p["pts"]], mode="markers",
                             marker=dict(symbol="circle-open", size=11, color=PT, line=dict(width=1.4, color=PT)),
                             showlegend=False, hoverinfo="skip", xaxis=xa, yaxis=ya))
    mx_, my_ = steps(p["edges"], p["med"])
    fig.add_trace(go.Scatter(x=mx_, y=my_, mode="lines", line=dict(color="white", width=8),
                             hoverinfo="skip", showlegend=False, xaxis=xa, yaxis=ya))
    fig.add_trace(go.Scatter(x=mx_, y=my_, mode="lines", line=dict(color=MEDC, width=4.8),
                             hoverinfo="skip", showlegend=False, xaxis=xa, yaxis=ya))
    if p["joined"]:
        segs = [([p["bx"][0], p["bx"][1], p["mx"][0], p["mx"][1], p["edges"][0]],
                 [p["birth"][1], p["birth"][1], p["month"][1], p["month"][1], p["med"][0]])]
    else:
        segs = [(p["bx"], [p["birth"][1]] * 2), (p["mx"], [p["month"][1]] * 2)]
    for sx, sy in segs:
        fig.add_trace(go.Scatter(x=sx, y=sy, mode="lines", line=dict(color="#7A3A2A", width=5.5),
                                 hoverinfo="skip", showlegend=False, xaxis=xa, yaxis=ya))
        fig.add_trace(go.Scatter(x=sx, y=sy, mode="lines", line=dict(color=PALE, width=3),
                                 hoverinfo="skip", showlegend=False, xaxis=xa, yaxis=ya))

    shapes.append(dict(type="rect", xref=xa + " domain", yref=ya, x0=0, x1=1, y0=REF_LOW, y1=REF_HIGH,
                       fillcolor=PINK, line=dict(width=0), layer="below"))

    x0, x1 = COLX[p["col"]]
    y0, y1 = ROWY[p["row"]]
    common = dict(showline=True, linecolor=AX, linewidth=1.4, mirror="ticks", ticks="outside", ticklen=9,
                  tickwidth=1.3, tickcolor=AX, showgrid=False, zeroline=False,
                  tickfont=dict(size=18, color="#222", family=FONT))
    layout_axes["xaxis" + p["ax"]] = dict(common, domain=[px(x0), px(x1)], anchor=ya,
                                          range=AGE_RANGE if p["row"] == 0 else WT_RANGE,
                                          tickvals=AGE_TICKS if p["row"] == 0 else WT_TICKS,
                                          ticklabelstandoff=7)
    layout_axes["yaxis" + p["ax"]] = dict(common, domain=[py(y1), py(y0)], anchor=xa,
                                          range=Y_RANGE, tickvals=Y_TICKS, ticklabelstandoff=10)

    off = 596.8 * p["row"]
    tx = [244, 780][p["col"]]
    tsize = [31, 29.5][p["col"]]
    annotations.append(dict(text=TITLES[p["col"]], x=px(tx), y=py(23 + off), xref="paper", yref="paper",
                            showarrow=False, xanchor="center", yanchor="middle",
                            font=dict(size=tsize, family=FONT, color="#111")))
    annotations.append(dict(text=XLABELS[p["row"]], x=px((x0 + x1) / 2), y=py(507 + off), xref="paper",
                            yref="paper", showarrow=False, xanchor="center", yanchor="middle",
                            font=dict(size=25, family=FONT, color="#111")))
    annotations.append(dict(text=YLABEL, x=px([22, 545][p["col"]]), y=py((y0 + y1) / 2 - 6), xref="paper",
                            yref="paper", showarrow=False, xanchor="center", yanchor="middle", textangle=-90,
                            font=dict(size=25, family=FONT, color="#111")))
    annotations.append(dict(text=BIRTH_LABEL, x=px(x0 + 83), y=py(557 + off), xref="paper", yref="paper",
                            showarrow=False, xanchor="center", yanchor="middle",
                            font=dict(size=25, family=FONT, color=BIRTHC)))
    annotations.append(dict(text=MONTH_LABEL, x=px(x0 + 253), y=py(557 + off), xref="paper", yref="paper",
                            showarrow=False, xanchor="center", yanchor="middle",
                            font=dict(size=25, family=FONT, color=MONTHC)))

fig.update_layout(width=W, height=H, margin=dict(l=0, r=0, t=0, b=0), paper_bgcolor="white",
                  plot_bgcolor="white", barmode="overlay", showlegend=False, shapes=shapes,
                  annotations=annotations, font=dict(family=FONT), **layout_axes)

# remove the default 8px body margin so the figure fills the 1000x1167 window exactly
fig.write_html("out.html", config={"displayModeBar": False},
               post_script="document.body.style.margin='0px';")
